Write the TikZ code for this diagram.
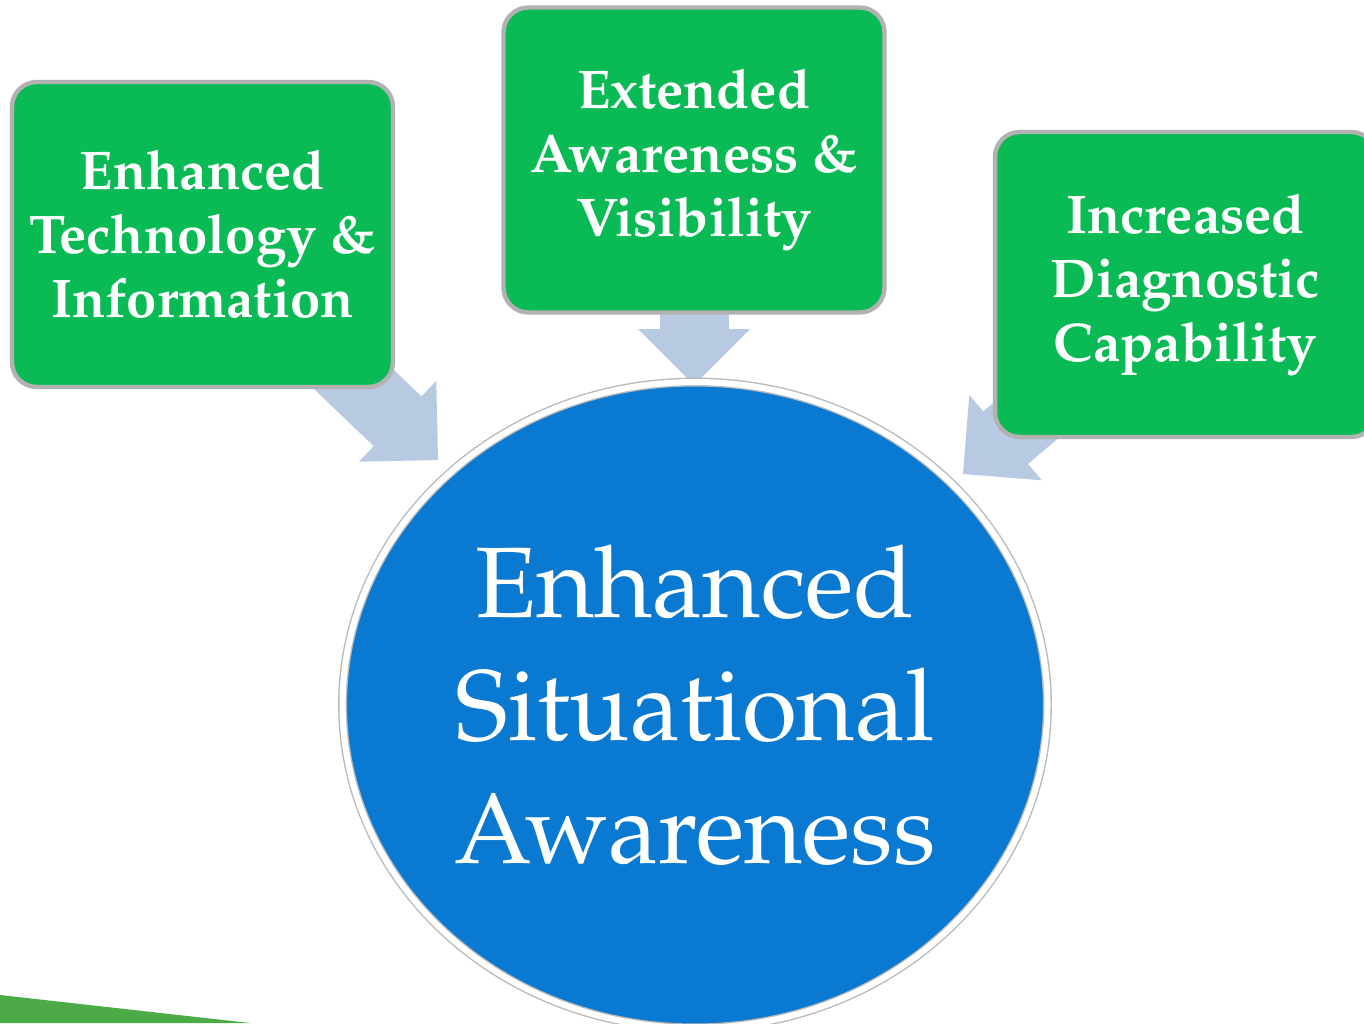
\documentclass[tikz,border=0pt]{standalone}
\usepackage[T1]{fontenc}
\usepackage{mathpazo}
\usetikzlibrary{shapes.geometric,
	arrows.meta,
	backgrounds}
\definecolor{boxgreen}{RGB}{10,187,85}
\definecolor{ringblue}{RGB}{10,121,209}
\definecolor{arrowblue}{RGB}{184,201,226}
\definecolor{swoosh}{RGB}{77,171,71}
\tikzstyle{cause}=[draw=gray!60, line width=2.5pt, fill=boxgreen, rounded corners=14pt,
	minimum width=7.62cm, minimum height=6.1cm, inner sep=0, align=center,
	text=white, font=\bfseries\fontsize{31}{36.5}\selectfont]
\tikzstyle{effect}=[ellipse, draw=gray!55, double=white, double distance=3.5pt, line width=0.8pt,
	fill=ringblue, minimum width=14.1cm, minimum height=12.92cm, inner sep=0,
	align=center, text=white, font=\fontsize{57}{70}\selectfont]
\tikzstyle{feed}=[arrowblue, line width=1.38cm,
	-{Triangle[width=2.24cm, length=1.12cm, line width=0pt]}]

\begin{document}
\begin{tikzpicture}[x=0.02cm, y=-0.02cm]
	\useasboundingbox (0,0) rectangle (1364,1023);
	\fill[swoosh] (0,995) -- (250,1023) -- (0,1023) -- cycle;
	\node[effect] (esa) at (695,705) {Enhanced\\Situational\\Awareness};
	\node[cause] (tech) at (202.5,234.5) {Enhanced\\Technology \&\\Information};
	\node[cause] (vis) at (694,160) {Extended\\Awareness \&\\Visibility};
	\node[cause] (diag) at (1185.5,284.5) {Increased\\Diagnostic\\Capability};
	\coordinate (tipa) at (438,460);
	\coordinate (tipb) at (694,385);
	\coordinate (tipc) at (963,474);
	\begin{scope}[on background layer]
		\draw[feed] (tech.center) -- (tipa);
		\draw[feed] (vis.center) -- (tipb);
		\draw[feed] (diag.center) -- (tipc);
	\end{scope}
\end{tikzpicture}
\end{document}
